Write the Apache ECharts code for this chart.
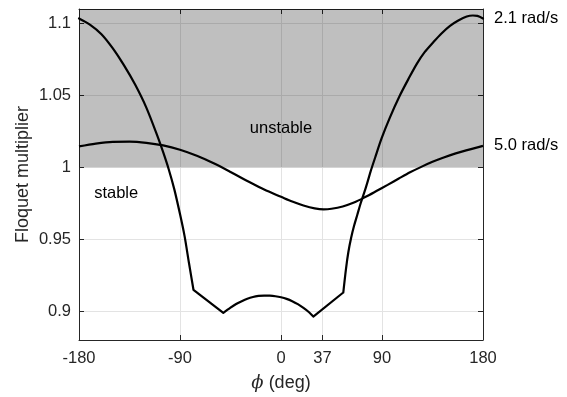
<!DOCTYPE html>
<html>
<head>
<meta charset="utf-8">
<script src="https://cdn.jsdelivr.net/npm/echarts@6/dist/echarts.min.js"></script>
<style>html,body{margin:0;padding:0;background:#fff}#c{width:567px;height:397px}</style>
</head>
<body>
<div id="c"></div>
<script>
// Curve for 2.1 rad/s: phase (deg) and Floquet multiplier
const phiA = [-180,-170,-160,-150,-140,-130,-120,-110,-105,-100,-95,-90,-86,-82,-78,-51.4,-45,-40,-35,-30,-25,-20,-15,-10,-5,0,5,10,15,20,25,28.8,55.5,58,60,62.5,65,68,71,74,77,80,84,89.7,97,106,114,121,128,135.7,143,150.6,158,165.5,171,175,180];
const multA = [1.1034,1.0990,1.0925,1.0828,1.0710,1.0575,1.0415,1.0215,1.0105,0.9985,0.9845,0.9675,0.9525,0.9335,0.9149,0.8988,0.9025,0.9050,0.9070,0.9087,0.9099,0.9106,0.9109,0.9108,0.9104,0.9097,0.9086,0.9070,0.9049,0.9023,0.8993,0.8963,0.9130,0.9300,0.9410,0.9510,0.9590,0.9670,0.9750,0.9820,0.9895,0.9975,1.0070,1.0202,1.0345,1.0500,1.0620,1.0719,1.0800,1.0869,1.0930,1.0983,1.1020,1.1048,1.1055,1.1052,1.1034];
// Phases where the 2.1 rad/s curve has a sharp kink
const cornersA = [-78,-51.4,28.8,55.5];
// Curve for 5.0 rad/s
const phiB = [-180,-165,-150,-135,-120,-105,-90,-75,-60,-45,-30,-15,0,10,20,30,38,45,55,65,75,85,95,105,115,125,135,145,155,165,180];
const multB = [1.0145,1.0165,1.0177,1.0178,1.0170,1.0152,1.0122,1.0080,1.0028,0.9968,0.9905,0.9845,0.9795,0.9762,0.9735,0.9715,0.9708,0.9712,0.9728,0.9755,0.9793,0.9835,0.9878,0.9922,0.9965,1.0003,1.0038,1.0068,1.0095,1.0118,1.0149];
const seriesNames = ['2.1 rad/s','5.0 rad/s'];
// Axis ticks
const xTicks = [-180,-90,0,37,90,180];
const yTicks = [0.9,0.95,1,1.05,1.1];
const xRange = [-180,180];
const yRange = [0.88,1.11];
const stableLimit = 1;
// Region annotations [x, y, text]
const regionNotes = [[0,1.027,'unstable'],[-166.5,0.982,'stable']];

const FONT = "'Liberation Sans', Arial, sans-serif";
const TXT = '#262626';
const FS = 16.5;
const chart = echarts.init(document.getElementById('c'), null, {renderer:'canvas'});

function zip(a,b){return a.map((v,i)=>[v,b[i]]);}
// split the curve at its kinks: each smooth piece is drawn on its own
function withBreaks(xs, ys, corners){
  const out = [];
  xs.forEach((x,i)=>{
    out.push([x, ys[i]]);
    if (corners.indexOf(x) >= 0) { out.push([x, null]); out.push([x, ys[i]]); }
  });
  return out;
}

const baseX = {
  type:'value', min:xRange[0], max:xRange[1],
  axisLine:{show:true,onZero:false,lineStyle:{color:TXT,width:1}},
  axisTick:{show:true,inside:true,length:5,customValues:xTicks,lineStyle:{color:TXT}},
  splitLine:{show:false}
};
const baseY = {
  type:'value', min:yRange[0], max:yRange[1],
  axisLine:{show:true,onZero:false,lineStyle:{color:TXT,width:1}},
  axisTick:{show:true,inside:true,length:5,customValues:yTicks,lineStyle:{color:TXT}},
  splitLine:{show:false}
};

chart.setOption({
  animation:false,
  backgroundColor:'#fff',
  grid:{left:79,right:84,top:9,bottom:55,containLabel:false},
  xAxis:[
    Object.assign({}, baseX, {
      position:'bottom',
      axisLabel:{show:true,customValues:xTicks,margin:10,color:TXT,fontSize:FS,fontFamily:FONT},
      splitLine:{show:true,lineStyle:{color:'#e3e3e3',width:1}},
      name:'{i|ϕ} (deg)', nameLocation:'middle', nameGap:34, nameMoveOverlap:false,
      nameTextStyle:{color:TXT,fontSize:18,fontFamily:FONT,rich:{i:{fontStyle:'italic',fontSize:18,fontFamily:"'DejaVu Serif', serif",color:TXT}}}
    }),
    Object.assign({}, baseX, {position:'top',axisLabel:{show:false}})
  ],
  yAxis:[
    Object.assign({}, baseY, {
      position:'left',
      axisLabel:{show:true,customValues:yTicks,margin:8,color:TXT,fontSize:FS,fontFamily:FONT},
      splitLine:{show:true,lineStyle:{color:'#e3e3e3',width:1}},
      name:'Floquet multiplier', nameLocation:'middle', nameGap:47, nameMoveOverlap:false,
      nameTextStyle:{color:TXT,fontSize:18,fontFamily:FONT}
    }),
    Object.assign({}, baseY, {position:'right',axisLabel:{show:false}})
  ],
  series:[
    {
      type:'line', data:[], z:1, silent:true,
      markArea:{silent:true,itemStyle:{color:'rgba(0,0,0,0.25)'},data:[[{yAxis:stableLimit},{yAxis:yRange[1]}]]},
      markPoint:{
        silent:true, symbol:'circle', symbolSize:0,
        data: regionNotes.map(n=>({coord:[n[0],n[1]],value:n[2],
          label:{show:true,formatter:n[2],color:'#000',fontSize:FS,fontFamily:FONT,position:n[2]==='stable'?'right':'inside',distance:0}}))
      }
    },
    {
      type:'line', name:seriesNames[0], data:withBreaks(phiA,multA,cornersA), connectNulls:false, z:5, showSymbol:false, smooth:0.3,
      lineStyle:{color:'#000',width:2.2,cap:'round',join:'round'}, clip:true,
      endLabel:{show:true,formatter:seriesNames[0],color:'#000',fontSize:FS,fontFamily:FONT,distance:11}
    },
    {
      type:'line', name:seriesNames[1], data:zip(phiB,multB), z:5, showSymbol:false, smooth:0.3,
      lineStyle:{color:'#000',width:2.2}, clip:true,
      endLabel:{show:true,formatter:seriesNames[1],color:'#000',fontSize:FS,fontFamily:FONT,distance:11}
    }
  ]
});
</script>
</body>
</html>
